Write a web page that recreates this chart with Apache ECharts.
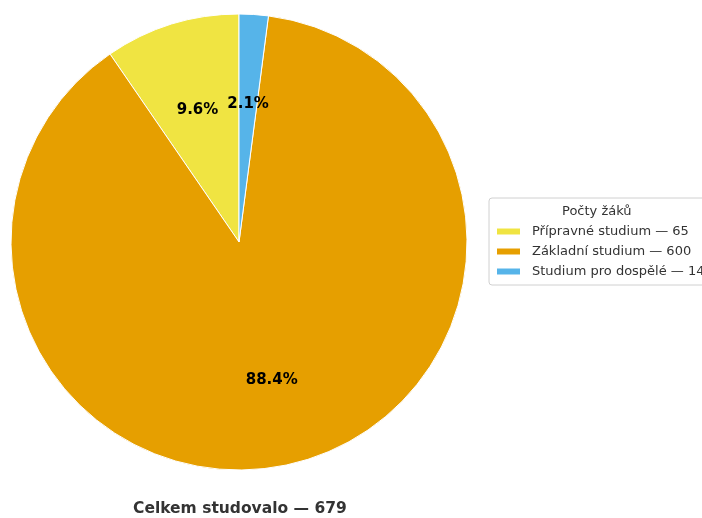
<!DOCTYPE html>
<html><head><meta charset="utf-8">
<script src="https://cdn.jsdelivr.net/npm/echarts@6/dist/echarts.min.js"></script>
<style>html,body{margin:0;padding:0;background:#fff}#c{width:702px;height:518px}</style>
</head><body><div id="c"></div>
<script>
var categories = ['Přípravné studium', 'Základní studium', 'Studium pro dospělé'];
var values = [65, 600, 14];
var colors = ['#F0E442', '#E69F00', '#56B4E9'];
var legendTitle = 'Počty žáků';
var totalLabel = 'Celkem studovalo — 679';

var total = values.reduce(function(a,b){return a+b;},0);
var data = categories.map(function(c,i){return {name:c, value:values[i], itemStyle:{color:colors[i]}};});
var font = 'DejaVu Sans';
var chart = echarts.init(document.getElementById('c'), null, {renderer:'canvas'});
chart.setOption({
  animation:false,
  backgroundColor:'#fff',
  legend:{
    orient:'vertical', left:489, top:198, width:240,
    padding:[27, 40, 7, 6],
    itemGap:7, itemWidth:25, itemHeight:8, icon:'rect',
    borderColor:'#d0d0d0', borderWidth:1, borderRadius:3,
    data:categories,
    formatter:function(n){return n + ' — ' + values[categories.indexOf(n)];},
    textStyle:{fontFamily:font, fontSize:13, color:'#333', padding:[0,0,0,6]}
  },
  graphic:[
    {type:'text', left:562, top:205, style:{text:legendTitle, fontFamily:font, fontSize:13, fill:'#333'}},
    {type:'text', left:133, top:501, style:{text:totalLabel, fontFamily:font, fontWeight:'bold', fontSize:15.5, fill:'#333'}}
  ],
  series:[
    {type:'pie', center:[239,242], radius:228, startAngle:90, clockwise:false,
     data:data, label:{show:false}, labelLine:{show:false},
     itemStyle:{borderColor:'#fff', borderWidth:1}, emphasis:{disabled:true}},
    {type:'pie', center:[239,242], radius:274, startAngle:90, clockwise:false, silent:true,
     data:categories.map(function(c,i){return {name:c, value:values[i]};}),
     itemStyle:{color:'rgba(0,0,0,0)'}, labelLine:{show:false}, emphasis:{disabled:true},
     label:{show:true, position:'inside', fontFamily:font, fontWeight:'bold', fontSize:15, color:'#000',
       offset:[0,2],
       formatter:function(p){return (p.value/total*100).toFixed(1)+'%';}}}
  ]
});
</script></body></html>
